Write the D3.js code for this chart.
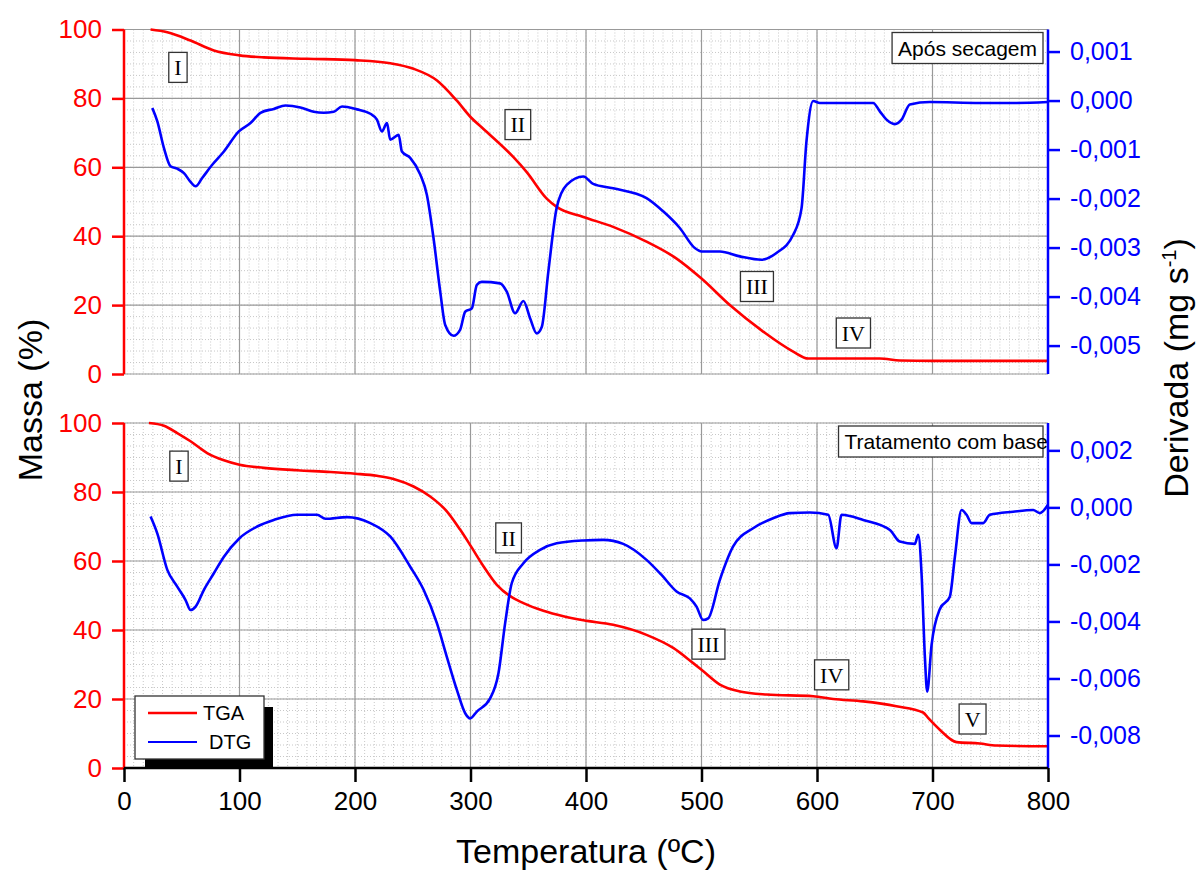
<!DOCTYPE html>
<html>
<head>
<meta charset="utf-8">
<script src="https://cdn.jsdelivr.net/npm/d3@7"></script>
<style>
  body { margin: 0; background: #fff; }
  text { font-family: Arial, "Liberation Sans", sans-serif; }
</style>
</head>
<body>
<div id="chart"></div>
<script>
// ---- data (temperature ºC, value) ----
const tempTicks = [0, 100, 200, 300, 400, 500, 600, 700, 800];
const massTicks = [0, 20, 40, 60, 80, 100];
const dtgTicksTop = [-0.005, -0.004, -0.003, -0.002, -0.001, 0, 0.001];
const dtgTicksBottom = [-0.008, -0.006, -0.004, -0.002, 0, 0.002];

// "Após secagem" TGA (%)
const tgaTop = [
  [23, 100], [37.5, 99.2], [57.6, 96.8], [77.8, 93.9], [100, 92.5], [121, 91.9],
  [158.5, 91.5], [200, 91.1], [230.5, 90.2], [250.7, 88.6], [271, 85.2], [288, 79.4],
  [300, 74.6], [311, 71.2], [337, 63], [348.7, 58.6], [366, 50.9], [374.6, 48.5],
  [397.7, 45.6], [423.5, 42.7], [452.4, 38.4], [478.4, 33.5], [500, 27.7],
  [524.5, 20], [553.4, 12.3], [579.4, 6.5], [592.4, 4.5], [654.4, 4.5], [671.9, 3.9],
  [700.6, 3.8], [800, 3.8]
];
// "Após secagem" DTG (mg s-1)
const dtgTop = [
  [24.5, -0.00015], [28.8, -0.00042], [34.6, -0.00097], [40.3, -0.00134], [46.1, -0.00139],
  [51.9, -0.00148], [57.6, -0.00166], [62, -0.00175], [67.7, -0.00158], [76.4, -0.00131],
  [86.5, -0.00104], [99.4, -0.00063], [109.5, -0.00046], [118.2, -0.00025], [129.7, -0.00017],
  [139.8, -0.00010], [152.7, -0.00014], [164.3, -0.00023], [172.9, -0.00025], [181.6, -0.00023],
  [188.8, -0.00012], [201.7, -0.00018], [213.3, -0.00027], [219, -0.00039], [223.3, -0.00063],
  [227.7, -0.00046], [230.5, -0.00080], [237.8, -0.00070], [240.6, -0.00104], [247.8, -0.00117],
  [256.5, -0.00151], [262.2, -0.00192], [268, -0.00281], [273.8, -0.00390], [278.1, -0.00458],
  [285.3, -0.00480], [291, -0.00468], [295.4, -0.00431], [301.2, -0.00424], [305.5, -0.00376],
  [309.8, -0.00370], [325.6, -0.00373], [331.4, -0.00390], [338.6, -0.00434], [345.8, -0.00409],
  [351.6, -0.00444], [357.3, -0.00475], [361.7, -0.00462], [367.4, -0.00349], [374.6, -0.00219],
  [383.3, -0.00172], [397.7, -0.00155], [406.2, -0.00170], [423.5, -0.00179], [452.4, -0.00199],
  [466.8, -0.00226], [481.2, -0.00260], [494.2, -0.00301], [500, -0.00308], [515.9, -0.00308],
  [533.2, -0.00318], [551.9, -0.00325], [564.9, -0.00311], [579.4, -0.00274], [586.6, -0.00220],
  [590.9, -0.00083], [596.7, -0.00001], [602.5, -0.00005], [648.6, -0.00005], [654.4, -0.00022],
  [660.2, -0.00039], [667.4, -0.00048], [673.2, -0.00039], [680.4, -0.00008], [697.7, -0.00003],
  [741, -0.00005], [769.8, -0.00005], [800, -0.00003]
];
// "Tratamento com base" TGA (%)
const tgaBottom = [
  [21.6, 100], [34.6, 99.2], [46.1, 97.1], [57.6, 94.7], [72, 91.3], [86.5, 89.2], [100, 87.9],
  [121, 87.0], [149.9, 86.3], [178.7, 85.8], [200.3, 85.3], [219, 84.7], [233.4, 83.8],
  [250.7, 81.6], [265.1, 78.7], [279.5, 74.4], [291, 69.1], [300.3, 64.3], [311.2, 58.5],
  [322.8, 53.1], [334.3, 49.8], [345.8, 47.8], [363.1, 45.6], [380.4, 44.0], [397.7, 42.8],
  [423.5, 41.5], [452.4, 38.6], [475.5, 34.8], [492.8, 30.4], [500, 28.5], [515.9, 24.2],
  [533.2, 22.2], [556.3, 21.3], [596.7, 20.8], [614, 20.0], [640, 19.3], [668.8, 17.9],
  [691.9, 16.1], [696.2, 14.5], [706.3, 11.1], [720.8, 7.5], [741, 7.1], [755.4, 6.5], [800, 6.3]
];
// "Tratamento com base" DTG (mg s-1)
const dtgBottom = [
  [23, -0.00032], [28.8, -0.00091], [37.5, -0.00219], [46.1, -0.00278], [53.3, -0.00325],
  [57.6, -0.00360], [62, -0.00348], [69.2, -0.00289], [77.8, -0.00231], [86.5, -0.00173],
  [100, -0.00108], [115.3, -0.00067], [129.7, -0.00044], [149.9, -0.00026], [167.1, -0.00026],
  [174.4, -0.00040], [193.1, -0.00034], [213.3, -0.00055], [230.5, -0.00102], [247.8, -0.00208],
  [259.4, -0.00289], [270.9, -0.00406], [279.5, -0.00524], [288.2, -0.00640], [295.4, -0.00722],
  [299.7, -0.00740], [305.5, -0.00716], [317, -0.00670], [324.2, -0.00582], [330, -0.00406],
  [335.7, -0.00266], [345.8, -0.00196], [360.2, -0.00149], [374.6, -0.00126], [397.7, -0.00116],
  [414.9, -0.00114], [432.2, -0.00128], [452.4, -0.00184], [465.4, -0.00237], [478.4, -0.00295],
  [489.9, -0.00319], [495.7, -0.00348], [501.4, -0.00395], [505.8, -0.00389], [515.9, -0.00254],
  [527.4, -0.00137], [544.7, -0.00073], [562, -0.00038], [576.5, -0.00020], [593.8, -0.00018],
  [609.7, -0.00026], [616.9, -0.00143], [621.2, -0.00026], [640, -0.00044], [663.1, -0.00079],
  [671.7, -0.00120], [684.7, -0.00128], [687.6, -0.00096], [690.5, -0.00231], [693.4, -0.00524],
  [695.4, -0.00646], [699.2, -0.00482], [706.4, -0.00356], [715, -0.00313], [719.4, -0.00173],
  [725.1, -0.00009], [729.5, -0.00026], [733.8, -0.00055], [743.9, -0.00055], [749.6, -0.00026],
  [769.8, -0.00015], [787.1, -0.00009], [792.9, -0.00020], [800, 0.00009]
];

// stage labels (temperature, mass %)
const stagesTop = [["I", 46.7, 89], ["II", 341, 72.4], ["III", 548, 25.4], ["IV", 631.5, 11.9]];
const stagesBottom = [["I", 47.6, 87.5], ["II", 333, 66.7], ["III", 506, 35.9], ["IV", 612.7, 27.0], ["V", 734.7, 14.2]];

// ---- layout ----
const W = 1201, H = 871;
const RED = "#ff0000", BLUE = "#0000ff";
const svg = d3.select("#chart").append("svg").attr("width", W).attr("height", H);

const x = d3.scaleLinear().domain([0, 800]).range([124, 1048]);

const loc = d3.formatLocale({ decimal: ",", thousands: ".", grouping: [3], currency: ["", ""], minus: "-" });
const fmt3 = loc.format(".3f");

const panels = [
  { top: 29.5, bottom: 374, tga: tgaTop, dtg: dtgTop, dtgDomain: [-0.00558, 0.00145],
    dtgTicks: dtgTicksTop, dtgMinor: 0.0005, stages: stagesTop, title: "Após secagem", xAxis: false },
  { top: 423, bottom: 768, tga: tgaBottom, dtg: dtgBottom, dtgDomain: [-0.00914, 0.00296],
    dtgTicks: dtgTicksBottom, dtgMinor: 0.001, stages: stagesBottom, title: "Tratamento com base", xAxis: true }
];

panels.forEach(p => {
  const y = d3.scaleLinear().domain([0, 100]).range([p.bottom, p.top]);
  const y2 = d3.scaleLinear().domain(p.dtgDomain).range([p.bottom, p.top]);
  const g = svg.append("g");

  // minor dotted grid
  const xMinor = d3.range(0, 800.001, 100 / 12);
  const yMinor = d3.range(0, 100.001, 20 / 6);
  g.append("g").selectAll("line").data(xMinor).join("line")
    .attr("x1", d => x(d)).attr("x2", d => x(d)).attr("y1", p.top).attr("y2", p.bottom)
    .attr("stroke", "#c8c8c8").attr("stroke-width", 1).attr("stroke-dasharray", "1,2");
  g.append("g").selectAll("line").data(yMinor).join("line")
    .attr("x1", x(0)).attr("x2", x(800)).attr("y1", d => y(d)).attr("y2", d => y(d))
    .attr("stroke", "#c8c8c8").attr("stroke-width", 1).attr("stroke-dasharray", "1,2");

  // major grid
  g.append("g").selectAll("line").data(tempTicks).join("line")
    .attr("x1", d => x(d)).attr("x2", d => x(d)).attr("y1", p.top).attr("y2", p.bottom)
    .attr("stroke", "#999").attr("stroke-width", 1.2);
  g.append("g").selectAll("line").data(massTicks).join("line")
    .attr("x1", x(0)).attr("x2", x(800)).attr("y1", d => y(d)).attr("y2", d => y(d))
    .attr("stroke", "#999").attr("stroke-width", 1.2);

  // curves
  const lineTga = d3.line().x(d => x(d[0])).y(d => y(d[1])).curve(d3.curveMonotoneX);
  const lineDtg = d3.line().x(d => x(d[0])).y(d => y2(d[1])).curve(d3.curveMonotoneX);
  g.append("path").attr("d", lineTga(p.tga)).attr("fill", "none").attr("stroke", RED).attr("stroke-width", 2.6);
  g.append("path").attr("d", lineDtg(p.dtg)).attr("fill", "none").attr("stroke", BLUE).attr("stroke-width", 2.6);

  // stage labels
  p.stages.forEach(s => {
    const sg = g.append("g").attr("transform", `translate(${x(s[1])},${y(s[2])})`);
    const t = sg.append("text").text(s[0]).attr("text-anchor", "middle").attr("dy", "0.35em")
      .style("font-family", "'Liberation Serif', 'Times New Roman', serif").style("font-size", "22px");
    const w = t.node().getComputedTextLength() + 11;
    sg.insert("rect", "text").attr("x", -w / 2).attr("y", -15).attr("width", w).attr("height", 30)
      .attr("fill", "#fff").attr("stroke", "#333").attr("stroke-width", 1.3);
  });

  // title box
  const tg = g.append("g");
  const tt = tg.append("text").text(p.title).style("font-size", "21px").attr("dy", "0.35em");
  const tw = tt.node().getComputedTextLength();
  const bx = x(800) - 5 - tw - (p.xAxis ? 1 : 12), by = p.top + 3;
  tt.attr("x", bx + 6).attr("y", by + 16);
  tg.insert("rect", "text").attr("x", bx).attr("y", by).attr("width", x(800) - 5 - bx).attr("height", 31)
    .attr("fill", "#fff").attr("stroke", "#333").attr("stroke-width", 1.3);

  // left axis (red)
  const left = g.append("g").attr("transform", `translate(${x(0)},0)`);
  left.call(d3.axisLeft(y).tickValues(yMinor).tickSize(6).tickFormat(""));
  left.call(d3.axisLeft(y).tickValues(massTicks).tickSize(12).tickPadding(10).tickFormat(d3.format("d")));
  left.selectAll("path.domain").remove();
  left.append("line").attr("y1", p.top).attr("y2", p.bottom).attr("stroke", RED).attr("stroke-width", 2.5);
  left.selectAll("line").attr("stroke", RED).attr("stroke-width", 2.5);
  left.selectAll("text").attr("fill", RED).style("font-size", "26px").style("font-family", "Arial, 'Liberation Sans', sans-serif");

  // right axis (blue)
  const right = g.append("g").attr("transform", `translate(${x(800)},0)`);
  const minorR = d3.range(Math.ceil(p.dtgDomain[0] / p.dtgMinor), Math.floor(p.dtgDomain[1] / p.dtgMinor) + 1)
    .map(k => k * p.dtgMinor);
  right.call(d3.axisRight(y2).tickValues(minorR).tickSize(6).tickFormat(""));
  right.call(d3.axisRight(y2).tickValues(p.dtgTicks).tickSize(12).tickPadding(10).tickFormat(fmt3));
  right.selectAll("path.domain").remove();
  right.append("line").attr("y1", p.top).attr("y2", p.bottom).attr("stroke", BLUE).attr("stroke-width", 2.5);
  right.selectAll("line").attr("stroke", BLUE).attr("stroke-width", 2.5);
  right.selectAll("text").attr("fill", BLUE).style("font-size", "25px").style("font-family", "Arial, 'Liberation Sans', sans-serif");

  if (p.xAxis) {
    // legend with shadow
    const lg = g.append("g");
    lg.append("rect").attr("x", 145).attr("y", 707).attr("width", 128).attr("height", p.bottom - 707).attr("fill", "#000");
    lg.append("rect").attr("x", 135).attr("y", 696).attr("width", 129).attr("height", 63)
      .attr("fill", "#fff").attr("stroke", "#333").attr("stroke-width", 1.3);
    lg.append("line").attr("x1", 148).attr("x2", 197).attr("y1", 713).attr("y2", 713).attr("stroke", RED).attr("stroke-width", 2.5);
    lg.append("line").attr("x1", 148).attr("x2", 197).attr("y1", 742).attr("y2", 742).attr("stroke", BLUE).attr("stroke-width", 2);
    lg.append("text").attr("x", 203).attr("y", 713).attr("dy", "0.35em").text("TGA").style("font-size", "20px");
    lg.append("text").attr("x", 209).attr("y", 742).attr("dy", "0.35em").text("DTG").style("font-size", "20px");

    // bottom axis (black)
    const bottom = g.append("g").attr("transform", `translate(0,${p.bottom})`);
    bottom.call(d3.axisBottom(x).tickValues(xMinor).tickSize(7).tickFormat(""));
    bottom.call(d3.axisBottom(x).tickValues(tempTicks).tickSize(14).tickPadding(10).tickFormat(d3.format("d")));
    bottom.selectAll("path.domain").remove();
    bottom.append("line").attr("x1", x(0)).attr("x2", x(800)).attr("stroke", "#000").attr("stroke-width", 2.5);
    bottom.selectAll("line").attr("stroke", "#000").attr("stroke-width", 2.5);
    bottom.selectAll("text").attr("fill", "#000").style("font-size", "26px").style("font-family", "Arial, 'Liberation Sans', sans-serif");
  }
});

// axis titles
svg.append("text").attr("transform", "translate(30,400) rotate(-90)").attr("text-anchor", "middle")
  .attr("dy", "0.35em").style("font-size", "34px").text("Massa (%)");
svg.append("text").attr("x", 586).attr("y", 863).attr("text-anchor", "middle")
  .style("font-size", "34px").text("Temperatura (ºC)");
const dt = svg.append("text").attr("transform", "translate(1176,368) rotate(-90)").attr("text-anchor", "middle")
  .attr("dy", "0.35em").style("font-size", "34px");
dt.append("tspan").text("Derivada (mg s");
dt.append("tspan").attr("dy", -12).style("font-size", "20px").text("-1");
dt.append("tspan").attr("dy", 12).text(")");
</script>
</body>
</html>
